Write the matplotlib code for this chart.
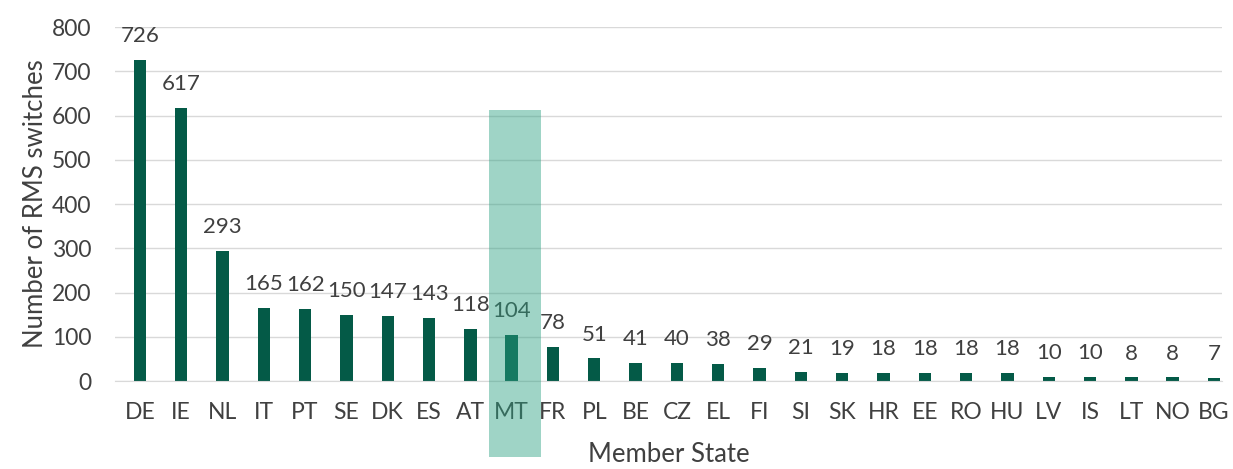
import matplotlib
matplotlib.use("Agg")
import matplotlib.pyplot as plt
from matplotlib.patches import Rectangle

# values
states = ["DE", "IE", "NL", "IT", "PT", "SE", "DK", "ES", "AT", "MT", "FR", "PL", "BE", "CZ",
          "EL", "FI", "SI", "SK", "HR", "EE", "RO", "HU", "LV", "IS", "LT", "NO", "BG"]
switches = [726, 617, 293, 165, 162, 150, 147, 143, 118, 104, 78, 51, 41, 40,
            38, 29, 21, 19, 18, 18, 18, 18, 10, 10, 8, 8, 7]
highlight = "MT"

plt.rcParams['font.family'] = ['Lato', 'DejaVu Sans']
txt_col = "#404040"
bar_col = "#045a47"

fig = plt.figure(figsize=(12.33, 4.69), dpi=100)
ax = fig.add_axes([0.0933, 0.1876, 0.898, 0.7548])

x = list(range(len(states)))
ax.bar(x, switches, width=0.3, color=bar_col, zorder=2)

for xi, v in zip(x, switches):
    ax.annotate(str(v), (xi, v), xytext=(0, 10), textcoords="offset points",
                ha="center", va="bottom", fontsize=16, color=txt_col)

# translucent box over the highlighted state, runs down past the tick labels
hi = states.index(highlight)
ax.add_patch(Rectangle((hi - 0.55, -172), 1.26, 612 + 172, facecolor="#2aa081",
                       alpha=0.45, edgecolor="none", zorder=5, clip_on=False))

ax.set_ylim(0, 800)
ax.set_xlim(-0.6, 26.2)
ax.set_yticks(range(0, 801, 100))
ax.set_xticks(x)
ax.set_xticklabels(states)
ax.tick_params(axis="both", length=0, labelsize=16.5, labelcolor=txt_col)
ax.tick_params(axis="x", pad=15)
ax.tick_params(axis="y", pad=17)
ax.yaxis.grid(True, color="#d9d9d9", linewidth=1, zorder=0)
ax.set_axisbelow(True)
for s in ["top", "right", "left"]:
    ax.spines[s].set_visible(False)
ax.spines["bottom"].set_color("#d9d9d9")

ax.set_ylabel("Number of RMS switches", fontsize=18.5, color=txt_col, labelpad=3)
ax.set_xlabel("Member State", fontsize=18.5, color=txt_col, labelpad=14)

fig.savefig("out.png", dpi=100)
